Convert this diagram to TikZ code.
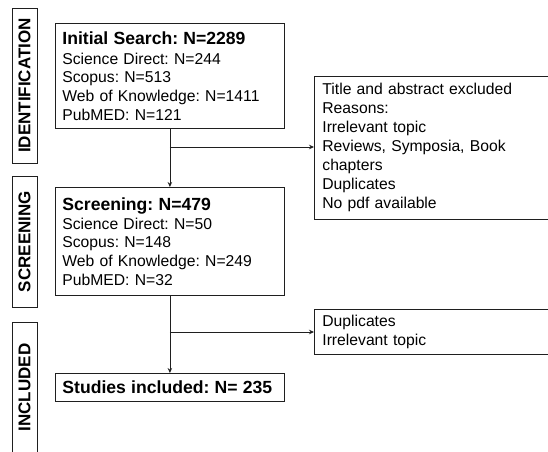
\documentclass[tikz,border=0pt]{standalone}
\usepackage{fontspec}
\setmainfont{Liberation Sans}
\usetikzlibrary{arrows.meta}
\frenchspacing
\begin{document}
\begin{tikzpicture}[x=1pt,y=1pt,
  every node/.style={font=\fontsize{15.7}{18.7}\selectfont},
  boxline/.style={draw=black!88, line width=0.8pt},
  mainbox/.style={boxline, anchor=north west, minimum width=229pt, inner xsep=7pt, inner ysep=0pt, text width=215pt, align=left},
  exbox/.style={boxline, anchor=north west, minimum width=242pt, inner xsep=8pt, inner ysep=0pt, text width=226pt, align=left},
  stagebox/.style={boxline, rotate=90, minimum height=25pt, inner sep=0pt, font=\fontsize{17}{20}\selectfont\bfseries},
  arr/.style={draw=black!88, line width=0.8pt, -{Stealth[length=5pt,width=4.5pt]}}
]
\useasboundingbox (0,0) rectangle (548,-451);

% stage labels
\node[stagebox, minimum width=155pt] (sid) at (24.5,-85.5) {IDENTIFICATION};
\node[stagebox, minimum width=131pt] (sscr) at (24.5,-241.5) {SCREENING};
\node[stagebox, minimum width=131pt] (sinc) at (24.5,-387.5) {INCLUDED};

% main boxes
\node[mainbox, minimum height=105pt] (init) at (55,-23)
  {{\fontsize{17.6}{20}\selectfont\bfseries Initial Search: N=2289}\\[1.3pt]
   Science Direct: N=244\\
   Scopus: N=513\\
   Web of Knowledge: N=1411\\
   PubMED: N=121};
\node[mainbox, minimum height=108pt] (scr) at (55,-187)
  {{\fontsize{17.6}{20}\selectfont\bfseries Screening: N=479}\\[0.5pt]
   Science Direct: N=50\\
   Scopus: N=148\\
   Web of Knowledge: N=249\\
   PubMED: N=32};
\node[mainbox, minimum height=28pt] (inc) at (55,-373)
  {{\fontsize{17.6}{20}\selectfont\bfseries Studies included: N= 235}};

% excluded boxes
\node[exbox, minimum height=143pt, font=\fontsize{15.7}{19}\selectfont] (ex1) at (314,-76)
  {Title and abstract excluded\\
   Reasons:\\
   Irrelevant topic\\
   Reviews, Symposia, Book\\
   chapters\\
   Duplicates\\
   No pdf available};
\node[exbox, minimum height=45pt, font=\fontsize{15.7}{19}\selectfont] (ex2) at (314,-309)
  {Duplicates\\
   Irrelevant topic};

% connectors
\coordinate (j1) at (init.south |- 0,-147);
\coordinate (j2) at (scr.south |- 0,-332);
\draw[arr] (init.south) -- (scr.north);
\draw[arr] (j1) -- (j1 -| ex1.west);
\draw[arr] (scr.south) -- (inc.north);
\draw[arr] (j2) -- (j2 -| ex2.west);
\end{tikzpicture}
\end{document}
